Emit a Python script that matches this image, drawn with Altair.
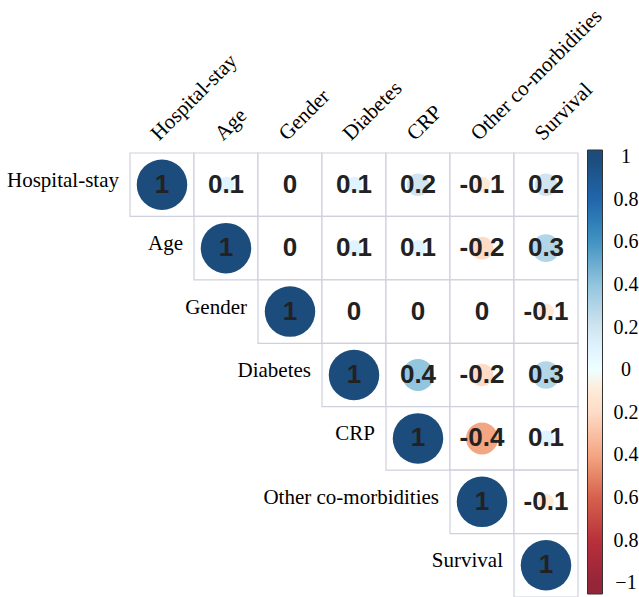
import altair as alt
import pandas as pd

# Variables in display order
variables = ["Hospital-stay", "Age", "Gender", "Diabetes", "CRP",
             "Other co-morbidities", "Survival"]

# Upper-triangle correlation coefficients, one list per row (starting at the diagonal)
r_hospital = [1, 0.1, 0, 0.1, 0.2, -0.1, 0.2]
r_age = [1, 0, 0.1, 0.1, -0.2, 0.3]
r_gender = [1, 0, 0, 0, -0.1]
r_diabetes = [1, 0.4, -0.2, 0.3]
r_crp = [1, -0.4, 0.1]
r_other = [1, -0.1]
r_survival = [1]

rows = [r_hospital, r_age, r_gender, r_diabetes, r_crp, r_other, r_survival]

records = []
for i, row_vals in enumerate(rows):
    for k, val in enumerate(row_vals):
        j = i + k
        records.append({
            "row": variables[i],
            "col": variables[j],
            "r": val,
            "abs_r": abs(val),
            "label": f"{val:g}",
        })
df = pd.DataFrame(records)
diag = df[df["row"] == df["col"]]

# Colour-bar tick values and their printed labels
legend_values = [1, 0.8, 0.6, 0.4, 0.2, 0, -0.2, -0.4, -0.6, -0.8, -1]
legend_text = ["\u22121" if v == -1 else f"{abs(v):g}" for v in legend_values]
leg_df = pd.DataFrame({"v": legend_values, "t": legend_text})

# Colour ramp (RdBu-style), slightly padded domain so the bar extends past ±1
bar_lo, bar_hi = -1.05, 1.033
color_domain = [bar_lo, -1, -0.8, -0.6, -0.4, -0.2, 0, 0.2, 0.4, 0.6, 0.8, 1, bar_hi]
color_range = ["#952539", "#952539", "#b8303a", "#D6604D", "#F4A582", "#FDDBC7",
               "#FFFFFF", "#D1E5F0", "#92C5DE", "#4393C3", "#2166AC", "#1c4c7b",
               "#1c4c7b"]

W, H = 448, 444
BAR_X, BAR_Y, BAR_LEN, BAR_W = 457.5, -3, 444, 15
serif = "Liberation Serif"

x_enc = alt.X(
    "col:N", sort=variables,
    scale=alt.Scale(domain=variables, paddingInner=0, paddingOuter=0),
    axis=alt.Axis(orient="top", title=None, labelAngle=-45, labelAlign="left",
                  labelBaseline="alphabetic", labelPadding=12, labelOffset=-3,
                  labelFont=serif, labelFontSize=21, labelColor="#000000",
                  labelLimit=400, domain=False, ticks=False, tickSize=0, grid=False),
)
y_enc = alt.Y(
    "row:N", sort=variables,
    scale=alt.Scale(domain=variables, paddingInner=0, paddingOuter=0),
    axis=None,
)

base = alt.Chart(df)

cells = base.mark_rect(fill="white", stroke="#cfd0de", strokeWidth=1.2).encode(
    x=x_enc, y=y_enc
)

circles = base.mark_circle(opacity=1).encode(
    x=x_enc, y=y_enc,
    size=alt.Size("abs_r:Q", scale=alt.Scale(domain=[0, 1], range=[0, 2550]), legend=None),
    color=alt.Color(
        "r:Q",
        scale=alt.Scale(domain=color_domain, range=color_range),
        legend=alt.Legend(
            orient="none", legendX=BAR_X, legendY=BAR_Y, title=None,
            direction="vertical", gradientLength=BAR_LEN, gradientThickness=BAR_W,
            gradientStrokeColor="#333333", gradientStrokeWidth=1,
            labelExpr="''", labelOpacity=0, padding=0,
        ),
    ),
)

numbers = base.mark_text(
    font="Liberation Sans", fontSize=26, fontWeight="bold", color="#222222"
).encode(x=x_enc, y=y_enc, text="label:N")

row_labels = alt.Chart(diag).mark_text(
    align="right", baseline="middle", dx=-43, dy=-4,
    font=serif, fontSize=21, color="#000000"
).encode(x=x_enc, y=y_enc, text="row:N")

# Colour-bar labels on their own value scale aligned with the gradient
bar_labels = alt.Chart(leg_df).mark_text(
    align="center", baseline="middle", font=serif, fontSize=20, color="#000000"
).encode(
    x=alt.value(BAR_X + BAR_W + 23.5),
    y=alt.Y("v:Q", scale=alt.Scale(domain=[bar_lo, bar_hi],
                                   range=[BAR_Y + BAR_LEN, BAR_Y], zero=False, nice=False),
            axis=None),
    text="t:N",
)

chart = alt.layer(cells, circles, numbers, row_labels, bar_labels).resolve_scale(
    y="independent"
).properties(
    width=W, height=H,
    background="white",
    autosize=alt.AutoSizeParams(type="none"),
    padding={"left": 130, "top": 153, "right": 61, "bottom": 0},
).configure_view(strokeWidth=0, strokeOpacity=0)

chart.save("out.html", embed_options={"renderer": "svg", "actions": False})
